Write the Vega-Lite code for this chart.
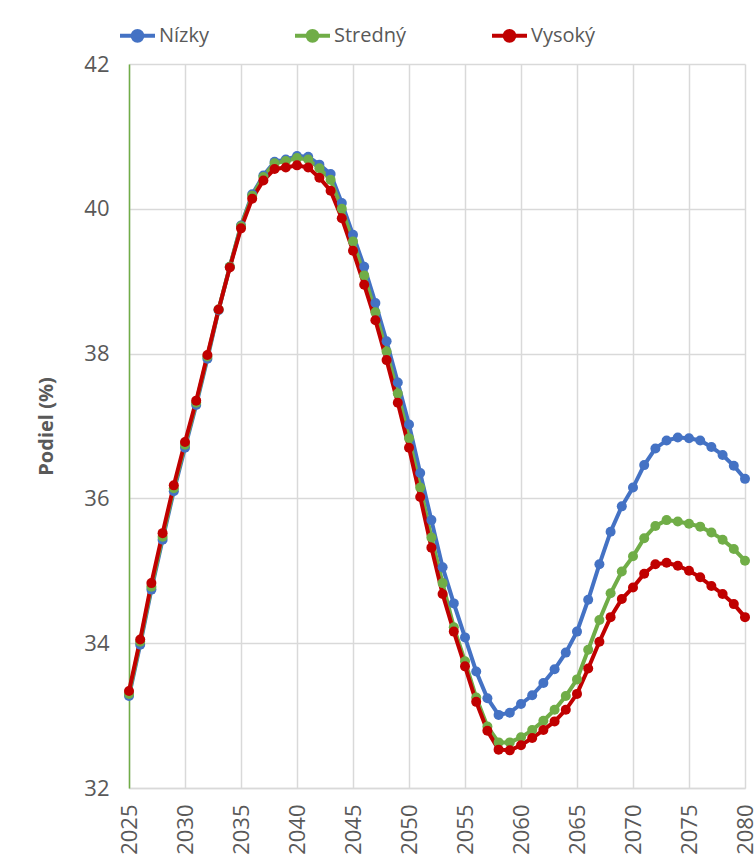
{
  "$schema": "https://vega.github.io/schema/vega-lite/v6.json",
  "width": 616,
  "height": 724,
  "autosize": {"type": "none"},
  "padding": {"left": 129, "top": 64, "right": 10, "bottom": 79},
  "background": "white",
  "config": {
    "view": {"stroke": null},
    "font": "Open Sans",
    "axis": {"labelColor": "#595959", "titleColor": "#595959", "gridColor": "#D9D9D9", "gridWidth": 1.5, "ticks": false, "labelFont": "Open Sans", "titleFont": "Open Sans"}
  },
  "data": {
    "values": [
      {"year": 2025, "scenario": "Nízky", "value": 33.27}, {"year": 2025, "scenario": "Stredný", "value": 33.30}, {"year": 2025, "scenario": "Vysoký", "value": 33.34},
      {"year": 2026, "scenario": "Nízky", "value": 33.98}, {"year": 2026, "scenario": "Stredný", "value": 34.02}, {"year": 2026, "scenario": "Vysoký", "value": 34.05},
      {"year": 2027, "scenario": "Nízky", "value": 34.74}, {"year": 2027, "scenario": "Stredný", "value": 34.78}, {"year": 2027, "scenario": "Vysoký", "value": 34.83},
      {"year": 2028, "scenario": "Nízky", "value": 35.43}, {"year": 2028, "scenario": "Stredný", "value": 35.47}, {"year": 2028, "scenario": "Vysoký", "value": 35.52},
      {"year": 2029, "scenario": "Nízky", "value": 36.10}, {"year": 2029, "scenario": "Stredný", "value": 36.14}, {"year": 2029, "scenario": "Vysoký", "value": 36.18},
      {"year": 2030, "scenario": "Nízky", "value": 36.70}, {"year": 2030, "scenario": "Stredný", "value": 36.74}, {"year": 2030, "scenario": "Vysoký", "value": 36.78},
      {"year": 2031, "scenario": "Nízky", "value": 37.29}, {"year": 2031, "scenario": "Stredný", "value": 37.32}, {"year": 2031, "scenario": "Vysoký", "value": 37.35},
      {"year": 2032, "scenario": "Nízky", "value": 37.93}, {"year": 2032, "scenario": "Stredný", "value": 37.96}, {"year": 2032, "scenario": "Vysoký", "value": 37.98},
      {"year": 2033, "scenario": "Nízky", "value": 38.60}, {"year": 2033, "scenario": "Stredný", "value": 38.61}, {"year": 2033, "scenario": "Vysoký", "value": 38.61},
      {"year": 2034, "scenario": "Nízky", "value": 39.20}, {"year": 2034, "scenario": "Stredný", "value": 39.20}, {"year": 2034, "scenario": "Vysoký", "value": 39.19},
      {"year": 2035, "scenario": "Nízky", "value": 39.77}, {"year": 2035, "scenario": "Stredný", "value": 39.76}, {"year": 2035, "scenario": "Vysoký", "value": 39.73},
      {"year": 2036, "scenario": "Nízky", "value": 40.20}, {"year": 2036, "scenario": "Stredný", "value": 40.18}, {"year": 2036, "scenario": "Vysoký", "value": 40.14},
      {"year": 2037, "scenario": "Nízky", "value": 40.46}, {"year": 2037, "scenario": "Stredný", "value": 40.44}, {"year": 2037, "scenario": "Vysoký", "value": 40.39},
      {"year": 2038, "scenario": "Nízky", "value": 40.65}, {"year": 2038, "scenario": "Stredný", "value": 40.63}, {"year": 2038, "scenario": "Vysoký", "value": 40.55},
      {"year": 2039, "scenario": "Nízky", "value": 40.68}, {"year": 2039, "scenario": "Stredný", "value": 40.66}, {"year": 2039, "scenario": "Vysoký", "value": 40.57},
      {"year": 2040, "scenario": "Nízky", "value": 40.73}, {"year": 2040, "scenario": "Stredný", "value": 40.70}, {"year": 2040, "scenario": "Vysoký", "value": 40.60},
      {"year": 2041, "scenario": "Nízky", "value": 40.72}, {"year": 2041, "scenario": "Stredný", "value": 40.68}, {"year": 2041, "scenario": "Vysoký", "value": 40.57},
      {"year": 2042, "scenario": "Nízky", "value": 40.61}, {"year": 2042, "scenario": "Stredný", "value": 40.56}, {"year": 2042, "scenario": "Vysoký", "value": 40.43},
      {"year": 2043, "scenario": "Nízky", "value": 40.48}, {"year": 2043, "scenario": "Stredný", "value": 40.40}, {"year": 2043, "scenario": "Vysoký", "value": 40.25},
      {"year": 2044, "scenario": "Nízky", "value": 40.08}, {"year": 2044, "scenario": "Stredný", "value": 40.00}, {"year": 2044, "scenario": "Vysoký", "value": 39.87},
      {"year": 2045, "scenario": "Nízky", "value": 39.64}, {"year": 2045, "scenario": "Stredný", "value": 39.55}, {"year": 2045, "scenario": "Vysoký", "value": 39.42},
      {"year": 2046, "scenario": "Nízky", "value": 39.20}, {"year": 2046, "scenario": "Stredný", "value": 39.08}, {"year": 2046, "scenario": "Vysoký", "value": 38.95},
      {"year": 2047, "scenario": "Nízky", "value": 38.70}, {"year": 2047, "scenario": "Stredný", "value": 38.57}, {"year": 2047, "scenario": "Vysoký", "value": 38.46},
      {"year": 2048, "scenario": "Nízky", "value": 38.17}, {"year": 2048, "scenario": "Stredný", "value": 38.03}, {"year": 2048, "scenario": "Vysoký", "value": 37.91},
      {"year": 2049, "scenario": "Nízky", "value": 37.60}, {"year": 2049, "scenario": "Stredný", "value": 37.45}, {"year": 2049, "scenario": "Vysoký", "value": 37.32},
      {"year": 2050, "scenario": "Nízky", "value": 37.02}, {"year": 2050, "scenario": "Stredný", "value": 36.83}, {"year": 2050, "scenario": "Vysoký", "value": 36.70},
      {"year": 2051, "scenario": "Nízky", "value": 36.35}, {"year": 2051, "scenario": "Stredný", "value": 36.15}, {"year": 2051, "scenario": "Vysoký", "value": 36.02},
      {"year": 2052, "scenario": "Nízky", "value": 35.70}, {"year": 2052, "scenario": "Stredný", "value": 35.46}, {"year": 2052, "scenario": "Vysoký", "value": 35.32},
      {"year": 2053, "scenario": "Nízky", "value": 35.05}, {"year": 2053, "scenario": "Stredný", "value": 34.83}, {"year": 2053, "scenario": "Vysoký", "value": 34.68},
      {"year": 2054, "scenario": "Nízky", "value": 34.55}, {"year": 2054, "scenario": "Stredný", "value": 34.22}, {"year": 2054, "scenario": "Vysoký", "value": 34.16},
      {"year": 2055, "scenario": "Nízky", "value": 34.08}, {"year": 2055, "scenario": "Stredný", "value": 33.75}, {"year": 2055, "scenario": "Vysoký", "value": 33.68},
      {"year": 2056, "scenario": "Nízky", "value": 33.61}, {"year": 2056, "scenario": "Stredný", "value": 33.25}, {"year": 2056, "scenario": "Vysoký", "value": 33.19},
      {"year": 2057, "scenario": "Nízky", "value": 33.24}, {"year": 2057, "scenario": "Stredný", "value": 32.85}, {"year": 2057, "scenario": "Vysoký", "value": 32.79},
      {"year": 2058, "scenario": "Nízky", "value": 33.01}, {"year": 2058, "scenario": "Stredný", "value": 32.63}, {"year": 2058, "scenario": "Vysoký", "value": 32.53},
      {"year": 2059, "scenario": "Nízky", "value": 33.04}, {"year": 2059, "scenario": "Stredný", "value": 32.63}, {"year": 2059, "scenario": "Vysoký", "value": 32.52},
      {"year": 2060, "scenario": "Nízky", "value": 33.16}, {"year": 2060, "scenario": "Stredný", "value": 32.70}, {"year": 2060, "scenario": "Vysoký", "value": 32.59},
      {"year": 2061, "scenario": "Nízky", "value": 33.28}, {"year": 2061, "scenario": "Stredný", "value": 32.80}, {"year": 2061, "scenario": "Vysoký", "value": 32.69},
      {"year": 2062, "scenario": "Nízky", "value": 33.45}, {"year": 2062, "scenario": "Stredný", "value": 32.93}, {"year": 2062, "scenario": "Vysoký", "value": 32.80},
      {"year": 2063, "scenario": "Nízky", "value": 33.64}, {"year": 2063, "scenario": "Stredný", "value": 33.08}, {"year": 2063, "scenario": "Vysoký", "value": 32.92},
      {"year": 2064, "scenario": "Nízky", "value": 33.87}, {"year": 2064, "scenario": "Stredný", "value": 33.27}, {"year": 2064, "scenario": "Vysoký", "value": 33.08},
      {"year": 2065, "scenario": "Nízky", "value": 34.16}, {"year": 2065, "scenario": "Stredný", "value": 33.50}, {"year": 2065, "scenario": "Vysoký", "value": 33.30},
      {"year": 2066, "scenario": "Nízky", "value": 34.60}, {"year": 2066, "scenario": "Stredný", "value": 33.91}, {"year": 2066, "scenario": "Vysoký", "value": 33.65},
      {"year": 2067, "scenario": "Nízky", "value": 35.09}, {"year": 2067, "scenario": "Stredný", "value": 34.32}, {"year": 2067, "scenario": "Vysoký", "value": 34.02},
      {"year": 2068, "scenario": "Nízky", "value": 35.54}, {"year": 2068, "scenario": "Stredný", "value": 34.69}, {"year": 2068, "scenario": "Vysoký", "value": 34.36},
      {"year": 2069, "scenario": "Nízky", "value": 35.89}, {"year": 2069, "scenario": "Stredný", "value": 34.99}, {"year": 2069, "scenario": "Vysoký", "value": 34.61},
      {"year": 2070, "scenario": "Nízky", "value": 36.15}, {"year": 2070, "scenario": "Stredný", "value": 35.20}, {"year": 2070, "scenario": "Vysoký", "value": 34.77},
      {"year": 2071, "scenario": "Nízky", "value": 36.46}, {"year": 2071, "scenario": "Stredný", "value": 35.45}, {"year": 2071, "scenario": "Vysoký", "value": 34.96},
      {"year": 2072, "scenario": "Nízky", "value": 36.69}, {"year": 2072, "scenario": "Stredný", "value": 35.62}, {"year": 2072, "scenario": "Vysoký", "value": 35.09},
      {"year": 2073, "scenario": "Nízky", "value": 36.80}, {"year": 2073, "scenario": "Stredný", "value": 35.70}, {"year": 2073, "scenario": "Vysoký", "value": 35.11},
      {"year": 2074, "scenario": "Nízky", "value": 36.84}, {"year": 2074, "scenario": "Stredný", "value": 35.68}, {"year": 2074, "scenario": "Vysoký", "value": 35.07},
      {"year": 2075, "scenario": "Nízky", "value": 36.83}, {"year": 2075, "scenario": "Stredný", "value": 35.65}, {"year": 2075, "scenario": "Vysoký", "value": 35.00},
      {"year": 2076, "scenario": "Nízky", "value": 36.80}, {"year": 2076, "scenario": "Stredný", "value": 35.61}, {"year": 2076, "scenario": "Vysoký", "value": 34.91},
      {"year": 2077, "scenario": "Nízky", "value": 36.71}, {"year": 2077, "scenario": "Stredný", "value": 35.53}, {"year": 2077, "scenario": "Vysoký", "value": 34.79},
      {"year": 2078, "scenario": "Nízky", "value": 36.60}, {"year": 2078, "scenario": "Stredný", "value": 35.43}, {"year": 2078, "scenario": "Vysoký", "value": 34.68},
      {"year": 2079, "scenario": "Nízky", "value": 36.45}, {"year": 2079, "scenario": "Stredný", "value": 35.30}, {"year": 2079, "scenario": "Vysoký", "value": 34.54},
      {"year": 2080, "scenario": "Nízky", "value": 36.27}, {"year": 2080, "scenario": "Stredný", "value": 35.14}, {"year": 2080, "scenario": "Vysoký", "value": 34.36}
    ]
  },
  "mark": {"type": "line", "strokeWidth": 4, "point": {"filled": true, "size": 100}},
  "encoding": {
    "x": {
      "field": "year", "type": "quantitative",
      "scale": {"domain": [2025, 2080], "nice": false, "zero": false},
      "axis": {"values": [2025, 2030, 2035, 2040, 2045, 2050, 2055, 2060, 2065, 2070, 2075, 2080], "format": "d", "labelAngle": -90, "labelFontSize": 22, "labelPadding": 16, "title": null, "domainColor": "#D9D9D9", "domainWidth": 1.5, "labelFlush": false, "labelOverlap": false}
    },
    "y": {
      "field": "value", "type": "quantitative",
      "scale": {"domain": [32, 42], "nice": false, "zero": false},
      "axis": {"values": [32, 34, 36, 38, 40, 42], "labelFontSize": 22, "labelPadding": 20, "title": "Podiel (%)", "titleFontSize": 20, "titleFontWeight": "bold", "titlePadding": 27, "domainColor": "#70AD47", "domainWidth": 1.5, "labelFlush": false, "grid": true}
    },
    "color": {
      "field": "scenario", "type": "nominal",
      "scale": {"domain": ["Nízky", "Stredný", "Vysoký"], "range": ["#4472C4", "#70AD47", "#C00000"]},
      "legend": {
        "title": null, "orient": "none", "direction": "horizontal", "legendX": -11, "legendY": -48,
        "labelFontSize": 20, "labelColor": "#595959", "labelFont": "Open Sans", "labelOffset": 2,
        "columnPadding": 77,
        "symbolType": "M-1,0L1,0M-0.28,0A0.28,0.28,0,1,0,0.28,0A0.28,0.28,0,1,0,-0.28,0Z",
        "symbolSize": 1225, "symbolStrokeWidth": 4,
        "encode": {"symbols": {"update": {"fill": {"scale": "color", "field": "value"}, "stroke": {"scale": "color", "field": "value"}}}}
      }
    }
  }
}
